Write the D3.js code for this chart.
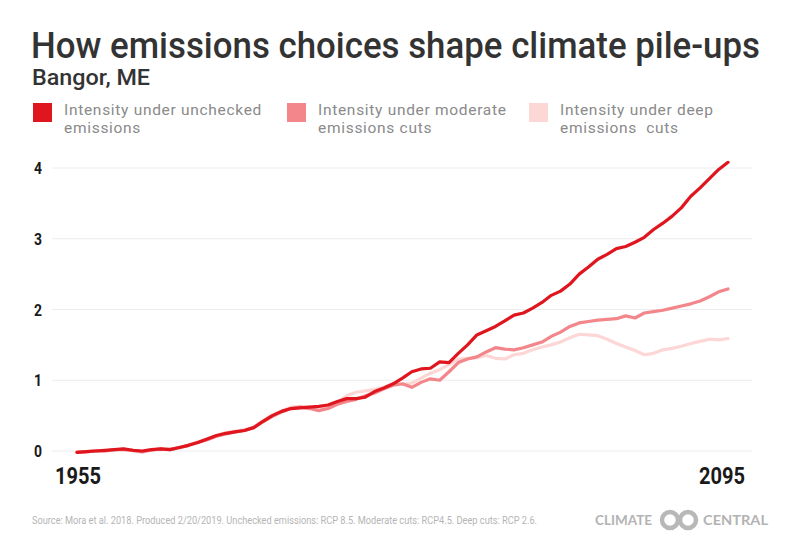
<!DOCTYPE html>
<html>
<head>
<meta charset="utf-8">
<script src="https://cdn.jsdelivr.net/npm/d3@7"></script>
<style>
  body { margin: 0; background: #fff; }
  svg { display: block; }
</style>
</head>
<body>
<svg id="chart" width="800" height="554"></svg>
<script>
// Data (2-year steps)
const years = d3.range(1955, 2096, 2);

const unchecked = [-0.02, -0.01, 0.00, 0.01, 0.02, 0.03, 0.01, 0.00, 0.02, 0.03,
    0.02, 0.05, 0.08, 0.12, 0.17, 0.22, 0.25, 0.27, 0.29, 0.33,
    0.42, 0.50, 0.56, 0.60, 0.61, 0.62, 0.63, 0.65, 0.70, 0.74,
    0.74, 0.76, 0.84, 0.89, 0.95, 1.03, 1.12, 1.16, 1.17, 1.26,
    1.25, 1.38, 1.50, 1.64, 1.70, 1.76, 1.84, 1.92, 1.95, 2.02,
    2.10, 2.20, 2.26, 2.36, 2.50, 2.60, 2.71, 2.78, 2.86, 2.89,
    2.95, 3.02, 3.13, 3.22, 3.32, 3.44, 3.60, 3.72, 3.85, 3.98, 4.08];

const moderate = [-0.02, -0.01, 0.00, 0.00, 0.02, 0.02, 0.01, -0.01, 0.01, 0.03,
    0.02, 0.05, 0.08, 0.12, 0.16, 0.21, 0.24, 0.27, 0.29, 0.33,
    0.41, 0.49, 0.55, 0.60, 0.62, 0.60, 0.57, 0.60, 0.66, 0.70,
    0.73, 0.78, 0.82, 0.88, 0.93, 0.95, 0.90, 0.97, 1.02, 1.00,
    1.12, 1.25, 1.30, 1.33, 1.40, 1.46, 1.44, 1.43, 1.46, 1.50,
    1.54, 1.62, 1.68, 1.76, 1.81, 1.83, 1.85, 1.86, 1.87, 1.91,
    1.88, 1.95, 1.97, 1.99, 2.02, 2.05, 2.08, 2.12, 2.18, 2.25, 2.29];

const deep = [-0.01, -0.02, 0.01, 0.00, 0.01, 0.03, 0.00, -0.02, 0.02, 0.02,
    0.03, 0.04, 0.09, 0.13, 0.17, 0.22, 0.26, 0.28, 0.30, 0.34,
    0.43, 0.51, 0.57, 0.62, 0.63, 0.62, 0.60, 0.62, 0.68, 0.78,
    0.83, 0.85, 0.87, 0.90, 0.95, 0.94, 0.96, 1.03, 1.10, 1.15,
    1.22, 1.30, 1.31, 1.32, 1.35, 1.31, 1.30, 1.36, 1.38, 1.43,
    1.47, 1.50, 1.54, 1.60, 1.65, 1.64, 1.63, 1.58, 1.52, 1.47,
    1.42, 1.36, 1.38, 1.43, 1.45, 1.48, 1.52, 1.55, 1.58, 1.57, 1.59];

const yTicks = [0, 1, 2, 3, 4];
const xTickLabels = [1955, 2095];

const seriesNames = [['Intensity under unchecked', 'emissions'],
    ['Intensity under moderate', 'emissions cuts'],
    ['Intensity under deep', 'emissions  cuts']];
const seriesColors = ['#e0161f', '#f3868b', '#fdd6d6'];
const legendX = [33, 287, 529];

const svg = d3.select('#chart');

// Scales
const x = d3.scaleLinear().domain([1955, 2095]).range([77, 728]);
const y = d3.scaleLinear().domain([0, 4]).range([451, 168]);

const narrow = 'Roboto, sans-serif';

// Title
svg.append('text')
    .attr('x', 31)
    .attr('y', 58)
    .attr('textLength', 729)
    .attr('lengthAdjust', 'spacingAndGlyphs')
    .style('font-family', 'Roboto, sans-serif')
    .style('font-weight', 500)
    .style('font-size', '36px')
    .style('fill', '#333')
    .text('How emissions choices shape climate pile-ups');

svg.append('text')
    .attr('x', 32)
    .attr('y', 85)
    .attr('textLength', 118)
    .attr('lengthAdjust', 'spacingAndGlyphs')
    .style('font-family', 'Roboto, sans-serif')
    .style('font-weight', 500)
    .style('font-size', '22px')
    .style('fill', '#333')
    .text('Bangor, ME');

// Legend
const legend = svg.selectAll('.legend')
    .data(seriesNames)
    .enter()
    .append('g')
    .attr('class', 'legend')
    .attr('transform', (d, i) => `translate(${legendX[i]}, 103)`);

legend.append('rect')
    .attr('width', 19)
    .attr('height', 19)
    .attr('fill', (d, i) => seriesColors[i]);

legend.each(function (d) {
    const g = d3.select(this);
    d.forEach((line, j) => {
        g.append('text')
            .attr('x', 31)
            .attr('y', 12 + j * 18)
            .style('font-family', 'Roboto, sans-serif')
            .style('font-size', '15.5px')
            .style('letter-spacing', '0.7px')
            .style('fill', '#8a8a8a')
            .style('white-space', 'pre')
            .text(line);
    });
});

// Grid lines
svg.append('g')
    .selectAll('line')
    .data(yTicks)
    .enter()
    .append('line')
    .attr('x1', 52)
    .attr('x2', 752)
    .attr('y1', d => y(d))
    .attr('y2', d => y(d))
    .attr('stroke', '#ececec')
    .attr('stroke-width', 1);

// Y axis labels
svg.append('g')
    .selectAll('text')
    .data(yTicks)
    .enter()
    .append('text')
    .attr('x', 38)
    .attr('y', d => y(d) + 6)
    .attr('text-anchor', 'middle')
    .attr('textLength', 8)
    .attr('lengthAdjust', 'spacingAndGlyphs')
    .style('font-family', narrow)
    .style('font-weight', 700)
    .style('font-size', '16px')
    .style('fill', '#1a1a1a')
    .text(d => d);

// X axis labels
svg.append('g')
    .selectAll('text')
    .data(xTickLabels)
    .enter()
    .append('text')
    .attr('x', (d, i) => i === 0 ? x(d) + 1 : x(d) - 6)
    .attr('y', 484)
    .attr('text-anchor', 'middle')
    .attr('textLength', 46)
    .attr('lengthAdjust', 'spacingAndGlyphs')
    .style('font-family', narrow)
    .style('font-weight', 700)
    .style('font-size', '23px')
    .style('fill', '#1a1a1a')
    .text(d => d);

// Lines
const line = d3.line()
    .x((d, i) => x(years[i]))
    .y(d => y(d));

const allSeries = [unchecked, moderate, deep];
[2, 1, 0].forEach(i => {
    svg.append('path')
        .datum(allSeries[i])
        .attr('d', line)
        .attr('fill', 'none')
        .attr('stroke', seriesColors[i])
        .attr('stroke-width', 3.2)
        .attr('stroke-linejoin', 'round')
        .attr('stroke-linecap', 'round');
});

// Footer
svg.append('text')
    .attr('x', 32)
    .attr('y', 524)
    .attr('textLength', 505)
    .attr('lengthAdjust', 'spacingAndGlyphs')
    .style('font-family', narrow)
    .style('font-size', '10px')
    .style('fill', '#b5b5b5')
    .text('Source: Mora et al. 2018. Produced 2/20/2019. Unchecked emissions: RCP 8.5. Moderate cuts: RCP4.5. Deep cuts: RCP 2.6.');

// Logo
const logo = svg.append('g').attr('transform', 'translate(0, 520)');
logo.append('text')
    .attr('x', 595)
    .attr('y', 5)
    .attr('textLength', 57)
    .attr('lengthAdjust', 'spacingAndGlyphs')
    .style('font-family', 'Lato, sans-serif')
    .style('font-weight', 700)
    .style('font-size', '14px')
    .style('fill', '#b3b3b3')
    .text('CLIMATE');
logo.append('text')
    .attr('x', 703)
    .attr('y', 5)
    .attr('textLength', 65)
    .attr('lengthAdjust', 'spacingAndGlyphs')
    .style('font-family', 'Lato, sans-serif')
    .style('font-weight', 700)
    .style('font-size', '14px')
    .style('fill', '#b3b3b3')
    .text('CENTRAL');
logo.selectAll('circle')
    .data([670, 688])
    .enter()
    .append('circle')
    .attr('cx', d => d)
    .attr('cy', 0)
    .attr('r', 8)
    .attr('fill', 'none')
    .attr('stroke', '#b8b8b8')
    .attr('stroke-width', 4.5);
</script>
</body>
</html>
